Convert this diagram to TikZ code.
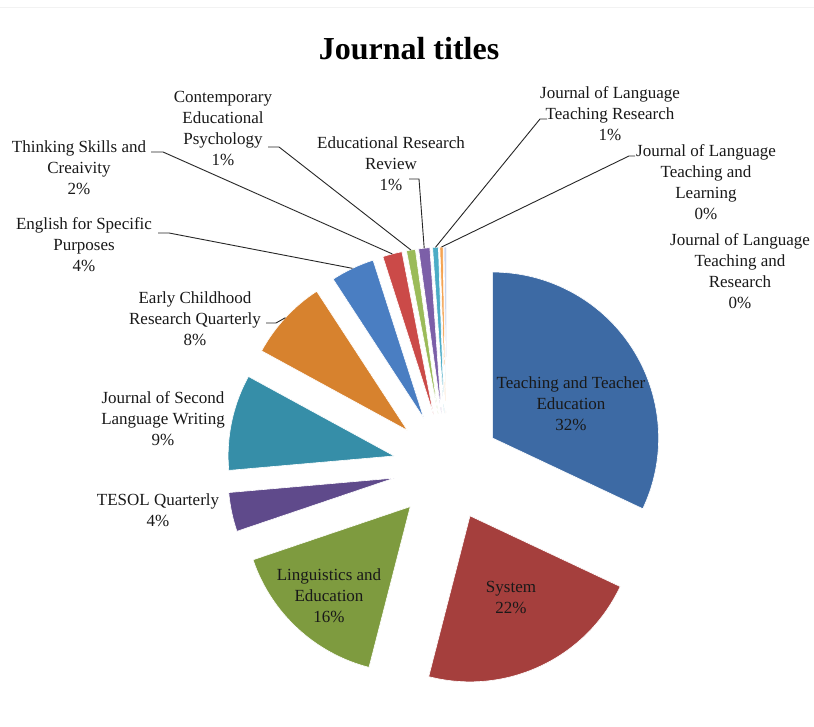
\documentclass[tikz,border=0pt]{standalone}
\usepackage{fontspec}
\setmainfont{Liberation Serif}
\definecolor{c1}{HTML}{3D6AA4}
\definecolor{c2}{HTML}{A53F3D}
\definecolor{c3}{HTML}{7E9B3F}
\definecolor{c4}{HTML}{5F4A8B}
\definecolor{c5}{HTML}{368EA8}
\definecolor{c6}{HTML}{D7822E}
\definecolor{c7}{HTML}{4A7EC2}
\definecolor{c8}{HTML}{CB4A48}
\definecolor{c9}{HTML}{9BBB59}
\definecolor{c10}{HTML}{7C5FA8}
\definecolor{c11}{HTML}{4BACC6}
\definecolor{c12}{HTML}{F5A352}
\definecolor{c13}{HTML}{C9D3EC}
\newcommand{\myslice}[4]{%
  \pgfmathsetmacro\slbis{(#2+#3)/2}%
  \path (C) ++(\slbis:54) coordinate (v#1) ++(\slbis:166) coordinate (m#1);
  \fill[#4, draw=white, line width=0.6pt] (v#1) -- ++(#2:166) arc[start angle=#2, end angle=#3, radius=166] -- cycle;
}
\begin{document}
\begin{tikzpicture}[x=1pt,y=1pt,
  lbl/.style={align=center, font=\fontsize{17}{21}\selectfont, inner sep=0pt, text=black!90},
  lead/.style={draw=black!85, line width=0.9pt}]
\useasboundingbox (0,0) rectangle (814,727);
\fill[white] (0,0) rectangle (814,727);
\draw[black!5, line width=1pt] (0,719) -- (814,719);
\coordinate (C) at (447,260);
\myslice{1}{-25.2}{90}{c1}
\myslice{2}{-104.4}{-25.2}{c2}
\myslice{3}{-161.3}{-104.4}{c3}
\myslice{4}{-175}{-161.3}{c4}
\myslice{5}{151.4}{185}{c5}
\myslice{6}{123.1}{151.4}{c6}
\myslice{7}{107.8}{123.1}{c7}
\myslice{8}{101.0}{107.8}{c8}
\myslice{9}{97.9}{101.0}{c9}
\myslice{10}{94.0}{97.9}{c10}
\myslice{11}{92.0}{94.0}{c11}
\myslice{12}{90.9}{92.0}{c12}
\myslice{13}{90.0}{90.9}{c13}

\node[font=\bfseries\fontsize{32}{38}\selectfont, inner sep=0pt] (title) at (409,678) {Journal titles};

\node[lbl] (tte) at (571,323) {Teaching and Teacher\\Education\\32\%};
\node[lbl] (sys) at (511,129.5) {System\\22\%};
\node[lbl] (lae) at (329,131) {Linguistics and\\Education\\16\%};
\node[lbl] (tesol) at (158,216.5) {TESOL Quarterly\\4\%};
\node[lbl] (jslw) at (163,308) {Journal of Second\\Language Writing\\9\%};
\node[lbl] (ecrq) at (195,408) {Early Childhood\\Research Quarterly\\8\%};
\node[lbl] (esp) at (84,482) {English for Specific\\Purposes\\4\%};
\node[lbl] (tsc) at (79,559.5) {Thinking Skills and\\Creaivity\\2\%};
\node[lbl] (cep) at (223,599) {Contemporary\\Educational\\Psychology\\1\%};
\node[lbl] (err) at (391,563.5) {Educational Research\\Review\\1\%};
\node[lbl] (jltres) at (610,613) {Journal of Language\\Teaching Research\\1\%};
\node[lbl] (jltl) at (706,545) {Journal of Language\\Teaching and\\Learning\\0\%};
\node[lbl] (jltr) at (740,456) {Journal of Language\\Teaching and\\Research\\0\%};

\coordinate (s6) at (266,404);
\coordinate (s7) at (158,494);
\coordinate (s8) at (151,575);
\coordinate (s9) at (268,580);
\coordinate (s10) at (409,548);
\coordinate (s11) at (547,608);
\coordinate (s12) at (635,571);
\draw[lead] (s6) -- ++(10,0) -- (m6);
\draw[lead] (s7) -- ++(11,0) -- (m7);
\draw[lead] (s8) -- ++(12,0) -- (m8);
\draw[lead] (s9) -- ++(11,0) -- (m9);
\draw[lead] (s10) -- ++(10,0) -- (m10);
\draw[lead] (s11) -- ++(-7,0) -- (m11);
\draw[lead] (s12) -- ++(-6,0) -- (m12);
\end{tikzpicture}
\end{document}
